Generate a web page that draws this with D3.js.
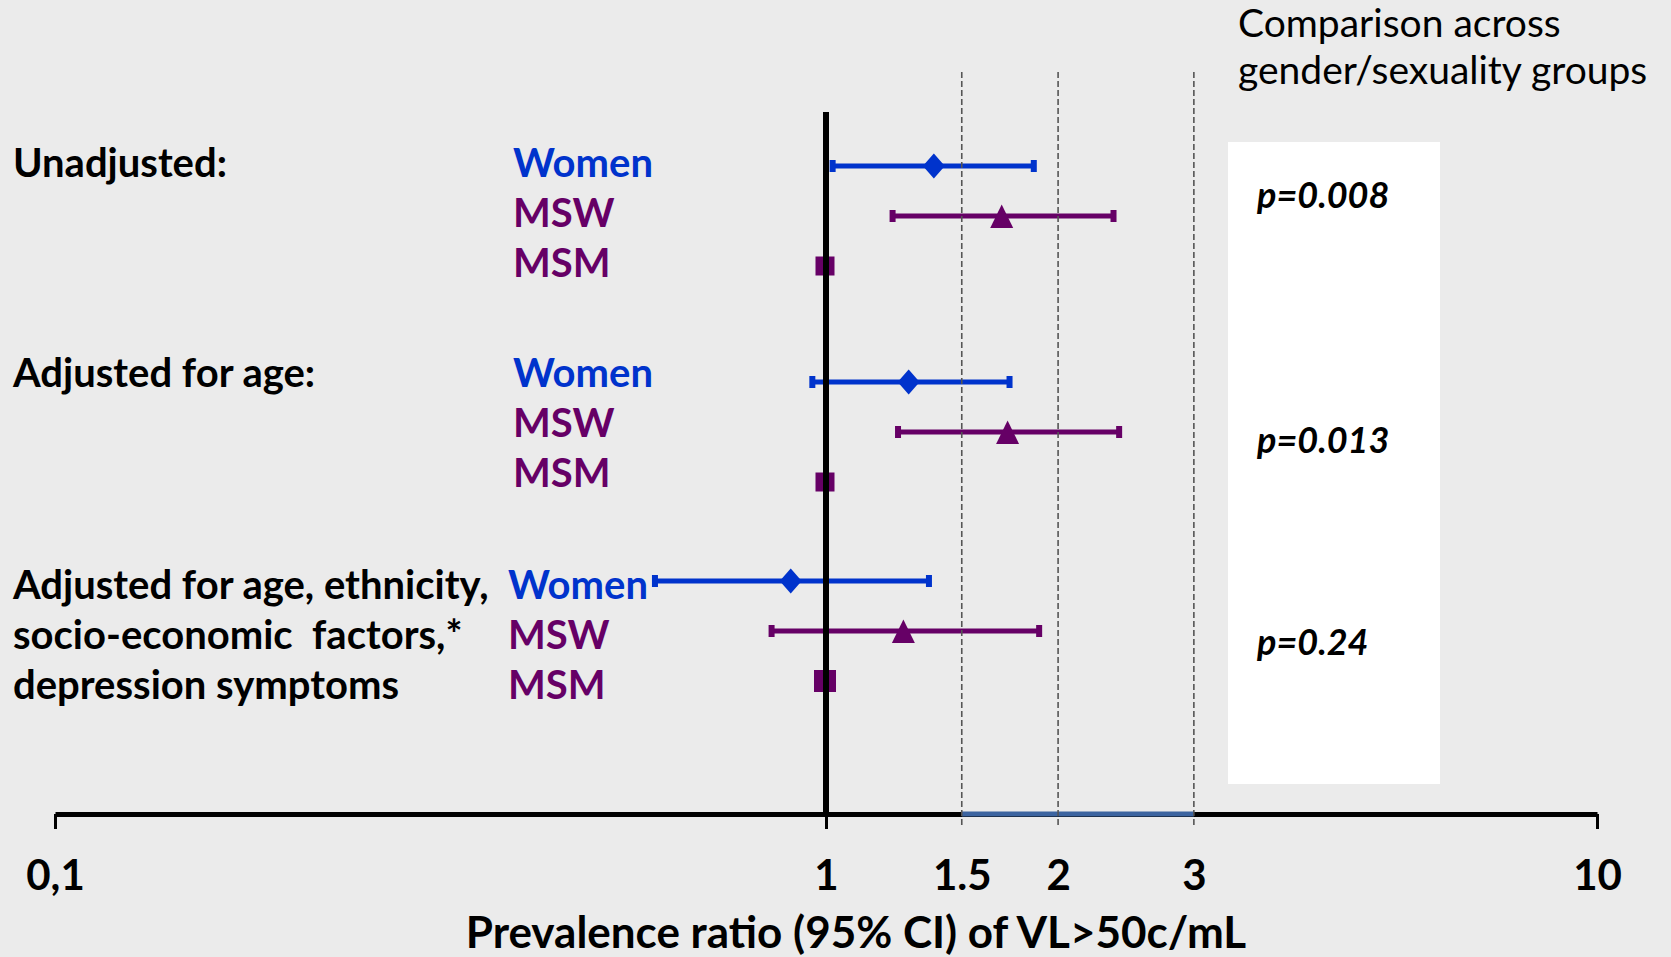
<!DOCTYPE html>
<html>
<head>
<meta charset="utf-8">
<script src="https://cdn.jsdelivr.net/npm/d3@7"></script>
<style>
  body { margin: 0; background: #ebebeb; }
  text { font-family: Lato, "Open Sans", sans-serif; white-space: pre; }
</style>
</head>
<body>
<div id="chart"></div>
<script>
// Data
const groupLabels = [
    ["Unadjusted:"],
    ["Adjusted for age:"],
    ["Adjusted for age, ethnicity,", "socio-economic  factors,*", "depression symptoms"]
];
const categories = ["Women", "MSW", "MSM"];

// prevalence ratio estimates per group (Women, MSW, MSM = reference)
const estimates = [
    [1.38, 1.69, 1],
    [1.28, 1.72, 1],
    [0.90, 1.26, 1]
];
const ciLow = [
    [1.02, 1.22, null],
    [0.96, 1.24, null],
    [0.60, 0.85, null]
];
const ciHigh = [
    [1.86, 2.36, null],
    [1.73, 2.40, null],
    [1.36, 1.89, null]
];
const pValues = ["p=0.008", "p=0.013", "p=0.24"];

const tickValues = [0.1, 1, 1.5, 2, 3, 10];
const tickLabels = ["0,1", "1", "1.5", "2", "3", "10"];
const majorTicks = [0.1, 1, 10];
const refLines = [1.5, 2, 3];
const highlightRange = [1.5, 3];

// Layout
const W = 1671, H = 957;
const axisY = 814;
const groupY = [166, 382, 581];     // marker row of first category
const groupTextY = [177, 387, 599]; // baseline of first text line
const rowGap = 50;
const catX = [513, 513, 508];
const pY = [208, 453, 655];

const catColor = ["#0033cc", "#660066", "#660066"];

const svg = d3.select("#chart")
    .append("svg")
    .attr("width", W)
    .attr("height", H);

svg.append("rect").attr("width", W).attr("height", H).attr("fill", "#ebebeb");

const x = d3.scaleLog().domain([0.1, 10]).range([55, 1597]);

// white box with p-values
svg.append("rect")
    .attr("x", 1228).attr("y", 142)
    .attr("width", 212).attr("height", 642)
    .attr("fill", "#ffffff");

svg.selectAll(".pval")
    .data(pValues)
    .enter()
    .append("text")
    .attr("class", "pval")
    .attr("x", 1257)
    .attr("y", (d, i) => pY[i])
    .attr("font-size", 36)
    .attr("font-weight", "bold")
    .attr("font-style", "italic")
    .text(d => d);

// heading top right
svg.append("text")
    .attr("x", 1238).attr("y", 37)
    .attr("font-size", 39)
    .text("Comparison across");
svg.append("text")
    .attr("x", 1238).attr("y", 84)
    .attr("font-size", 39)
    .text("gender/sexuality groups");

// group labels
groupLabels.forEach((lines, g) => {
    svg.selectAll(null)
        .data(lines)
        .enter()
        .append("text")
        .attr("x", 13)
        .attr("y", (d, i) => groupTextY[g] + i * rowGap)
        .attr("font-size", 40)
        .attr("font-weight", "bold")
        .text(d => d);

    svg.selectAll(null)
        .data(categories)
        .enter()
        .append("text")
        .attr("x", catX[g])
        .attr("y", (d, i) => groupTextY[g] + i * rowGap)
        .attr("font-size", 40)
        .attr("font-weight", "bold")
        .attr("fill", (d, i) => catColor[i])
        .text(d => d);
});

// axis: thick line with end ticks
const axisG = svg.append("g")
    .attr("transform", `translate(0,${axisY})`)
    .call(d3.axisBottom(x).tickValues(majorTicks).tickSize(15).tickSizeOuter(0).tickFormat(""));
axisG.select(".domain").attr("stroke", "#000").attr("stroke-width", 5);
axisG.selectAll(".tick line").attr("stroke", "#000").attr("stroke-width", 3);

svg.append("line")
    .attr("x1", x(highlightRange[0])).attr("x2", x(highlightRange[1]))
    .attr("y1", axisY).attr("y2", axisY)
    .attr("stroke", "#3c64a0").attr("stroke-width", 5);

// tick labels
const labelAxis = svg.append("g")
    .attr("transform", `translate(0,${axisY})`)
    .call(d3.axisBottom(x).tickValues(tickValues).tickSize(0).tickPadding(46)
        .tickFormat((d, i) => tickLabels[i]));
labelAxis.select(".domain").remove();
labelAxis.selectAll("text")
    .attr("font-family", "Lato, sans-serif")
    .attr("font-size", 42)
    .attr("font-weight", "bold")
    .attr("fill", "#000");

svg.append("text")
    .attr("x", 856).attr("y", 948)
    .attr("text-anchor", "middle")
    .attr("font-size", 44)
    .attr("font-weight", "bold")
    .text("Prevalence ratio (95% CI) of VL>50c/mL");

// error bars and markers
const diamond = d3.line()([[-11, 0], [0, -12.5], [11, 0], [0, 12.5]]) + "Z";
const triangle = d3.line()([[-11.5, 12], [0, -11.5], [11.5, 12]]) + "Z";

estimates.forEach((row, g) => {
    row.forEach((est, i) => {
        const y = groupY[g] + i * rowGap;
        const lo = ciLow[g][i], hi = ciHigh[g][i];
        const c = catColor[i];
        if (lo != null) {
            svg.append("line")
                .attr("x1", x(lo)).attr("x2", x(hi))
                .attr("y1", y).attr("y2", y)
                .attr("stroke", c).attr("stroke-width", 5);
            [lo, hi].forEach(v => {
                svg.append("rect")
                    .attr("x", x(v) - 3).attr("y", y - 6)
                    .attr("width", 6).attr("height", 12)
                    .attr("fill", c);
            });
        }
        if (i === 0) {
            svg.append("path").attr("d", diamond)
                .attr("transform", `translate(${x(est)},${y})`).attr("fill", c);
        } else if (i === 1) {
            svg.append("path").attr("d", triangle)
                .attr("transform", `translate(${x(est)},${y})`).attr("fill", c);
        } else {
            const s = g === 2 ? 22 : 19;
            svg.append("rect")
                .attr("x", x(est) - s / 2 - 1).attr("y", y - s / 2)
                .attr("width", s).attr("height", s)
                .attr("fill", c);
        }
    });
});

// reference line at 1
svg.append("line")
    .attr("x1", x(1)).attr("x2", x(1))
    .attr("y1", 112).attr("y2", axisY)
    .attr("stroke", "#000").attr("stroke-width", 6);

// dashed comparison lines
svg.selectAll(".ref")
    .data(refLines)
    .enter()
    .append("line")
    .attr("class", "ref")
    .attr("x1", d => x(d)).attr("x2", d => x(d))
    .attr("y1", 72).attr("y2", 826)
    .attr("stroke", "#555").attr("stroke-width", 1.6)
    .attr("stroke-dasharray", "6,3");
</script>
</body>
</html>
